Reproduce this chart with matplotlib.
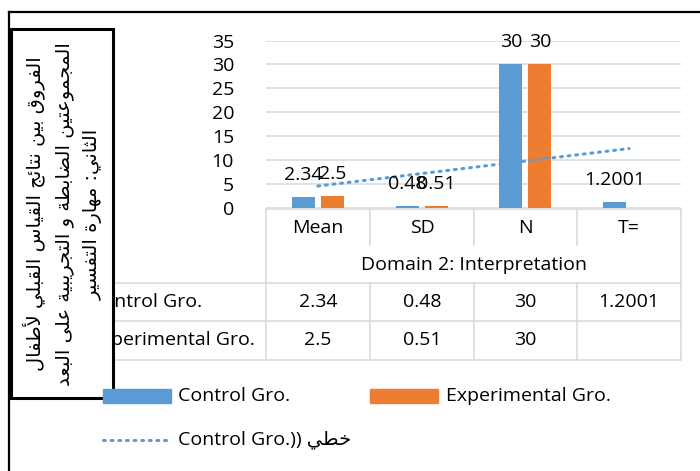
import matplotlib.pyplot as plt
from matplotlib.patches import Rectangle
from matplotlib.lines import Line2D
import numpy as np

plt.rcParams["font.family"] = ["Open Sans", "DejaVu Sans"]

# Data
categories = ["Mean", "SD", "N", "T="]
control = [2.34, 0.48, 30, 1.2001]
experimental = [2.5, 0.51, 30, None]
control_labels = ["2.34", "0.48", "30", "1.2001"]
experimental_labels = ["2.5", "0.51", "30", ""]
row_names = ["Control Gro.", "Experimental Gro."]
domain_title = "Domain 2: Interpretation"
box_lines = [
    "الفروق بين نتائج القياس القبلي لأطفال",
    "المجموعتين الضابطة و التجريبية على البعد",
    "الثاني: مهارة التفسير",
]
trend_word = "خطي"

BLUE = "#5B9BD5"
ORANGE = "#ED7D31"
GRID = "#D9D9D9"
FS = 14

# Arabic contextual forms: isolated, final, initial, medial
FORMS = {
    "ا": (0xFE8D, 0xFE8E, None, None),
    "أ": (0xFE83, 0xFE84, None, None),
    "ر": (0xFEAD, 0xFEAE, None, None),
    "و": (0xFEED, 0xFEEE, None, None),
    "د": (0xFEA9, 0xFEAA, None, None),
    "ة": (0xFE93, 0xFE94, None, None),
    "ى": (0xFEEF, 0xFEF0, None, None),
    "ل": (0xFEDD, 0xFEDE, 0xFEDF, 0xFEE0),
    "ف": (0xFED1, 0xFED2, 0xFED3, 0xFED4),
    "ق": (0xFED5, 0xFED6, 0xFED7, 0xFED8),
    "ب": (0xFE8F, 0xFE90, 0xFE91, 0xFE92),
    "ي": (0xFEF1, 0xFEF2, 0xFEF3, 0xFEF4),
    "ن": (0xFEE5, 0xFEE6, 0xFEE7, 0xFEE8),
    "ت": (0xFE95, 0xFE96, 0xFE97, 0xFE98),
    "ث": (0xFE99, 0xFE9A, 0xFE9B, 0xFE9C),
    "ئ": (0xFE89, 0xFE8A, 0xFE8B, 0xFE8C),
    "ج": (0xFE9D, 0xFE9E, 0xFE9F, 0xFEA0),
    "خ": (0xFEA5, 0xFEA6, 0xFEA7, 0xFEA8),
    "س": (0xFEB1, 0xFEB2, 0xFEB3, 0xFEB4),
    "ض": (0xFEBD, 0xFEBE, 0xFEBF, 0xFEC0),
    "ط": (0xFEC1, 0xFEC2, 0xFEC3, 0xFEC4),
    "ع": (0xFEC9, 0xFECA, 0xFECB, 0xFECC),
    "م": (0xFEE1, 0xFEE2, 0xFEE3, 0xFEE4),
    "ه": (0xFEE9, 0xFEEA, 0xFEEB, 0xFEEC),
}
LAM_ALEF = {"ا": (0xFEFB, 0xFEFC), "أ": (0xFEF7, 0xFEF8)}


def shape(text):
    tokens, i = [], 0
    while i < len(text):
        if text[i] == "ل" and i + 1 < len(text) and text[i + 1] in LAM_ALEF:
            tokens.append(("la", text[i + 1]))
            i += 2
        else:
            tokens.append(text[i])
            i += 1

    def is_ar(t):
        return isinstance(t, tuple) or t in FORMS

    def dual(t):
        return not isinstance(t, tuple) and t in FORMS and FORMS[t][2] is not None

    out = []
    for k, t in enumerate(tokens):
        prev = tokens[k - 1] if k > 0 else None
        nxt = tokens[k + 1] if k + 1 < len(tokens) else None
        jp = prev is not None and dual(prev)
        if isinstance(t, tuple):
            out.append(chr(LAM_ALEF[t[1]][1 if jp else 0]))
            continue
        if t not in FORMS:
            out.append(t)
            continue
        iso, fin, ini, med = FORMS[t]
        jn = ini is not None and nxt is not None and is_ar(nxt)
        if jp and jn:
            out.append(chr(med))
        elif jp:
            out.append(chr(fin))
        elif jn:
            out.append(chr(ini))
        else:
            out.append(chr(iso))
    return "".join(reversed(out))


W, H = 700, 471
fig = plt.figure(figsize=(W / 100, H / 100), dpi=100)


def fx(px):
    return px / W


def fy(py):
    return 1 - py / H


# plot area
x0, x1, y0, y1 = 266, 681, 208, 40.5
ax = fig.add_axes([fx(x0), fy(y0), fx(x1 - x0), (y0 - y1) / H])
x = np.arange(1, len(categories) + 1)
bw, off = 0.22, 0.14
ctrl = np.array(control, dtype=float)
expv = np.array([np.nan if v is None else v for v in experimental], dtype=float)
ax.bar(x - off, ctrl, bw, color=BLUE, zorder=3)
ax.bar(x + off, expv, bw, color=ORANGE, zorder=3)

for xi, v, lab in zip(x - off, ctrl, control_labels):
    ax.annotate(lab, (xi, v), xytext=(0, 13), textcoords="offset pixels",
                ha="center", va="bottom", fontsize=FS, zorder=5)
for xi, v, lab in zip(x + off, expv, experimental_labels):
    if lab:
        ax.annotate(lab, (xi, v), xytext=(0, 13), textcoords="offset pixels",
                    ha="center", va="bottom", fontsize=FS, zorder=5)

# linear trend of the control series
dots = (0, (0.6, 1.9))
coef = np.polyfit(x, ctrl, 1)
ax.plot(x, np.polyval(coef, x), color=BLUE, lw=2.2, linestyle=dots,
        dash_capstyle="round", zorder=4)

ax.set_xlim(0.5, len(categories) + 0.5)
ax.set_ylim(0, 35)
ax.set_yticks(range(0, 36, 5))
ax.set_xticks([])
ax.yaxis.grid(True, color=GRID, lw=1.1, zorder=0)
ax.tick_params(axis="y", length=0, pad=23, labelsize=FS)
for s in ax.spines.values():
    s.set_visible(False)
ax.patch.set_alpha(0)

# data table
col_edges = [266, 370, 474, 577, 681]
t_top, t_hdr, t_dom, t_r1, t_r2 = 209, 245, 283, 321, 360
lk = dict(color=GRID, lw=1.1, transform=fig.transFigure, zorder=1)
fig.add_artist(Line2D([fx(266), fx(681)], [fy(t_top)] * 2, **lk))
for yy in (t_dom, t_r1, t_r2):
    fig.add_artist(Line2D([fx(80), fx(681)], [fy(yy)] * 2, **lk))
for xx in (266, 681):
    fig.add_artist(Line2D([fx(xx)] * 2, [fy(t_top), fy(t_r2)], **lk))
for xx in col_edges[1:-1]:
    fig.add_artist(Line2D([fx(xx)] * 2, [fy(t_top), fy(t_hdr)], **lk))
    fig.add_artist(Line2D([fx(xx)] * 2, [fy(t_dom), fy(t_r2)], **lk))

centers = [(a + b) / 2 for a, b in zip(col_edges[:-1], col_edges[1:])]
for cx, c in zip(centers, categories):
    fig.text(fx(cx), fy(228), c, ha="center", va="center", fontsize=FS)
fig.text(fx(474), fy(265), domain_title, ha="center", va="center", fontsize=FS)
for row_y, name, labs in zip((302, 340), row_names,
                             (control_labels, experimental_labels)):
    fig.text(fx(90), fy(row_y), name, ha="left", va="center", fontsize=FS)
    for cx, lab in zip(centers, labs):
        fig.text(fx(cx), fy(row_y), lab, ha="center", va="center", fontsize=FS)

# chart border (top and left edges visible)
bk = dict(color="black", lw=1.6, transform=fig.transFigure, zorder=6)
fig.add_artist(Line2D([fx(9), fx(700)], [fy(12)] * 2, **bk))
fig.add_artist(Line2D([fx(9)] * 2, [fy(12), fy(471)], **bk))

# rotated Arabic text box
fig.add_artist(Rectangle((fx(11), fy(398)), fx(102), (398 - 29) / H,
                         transform=fig.transFigure, facecolor="white",
                         edgecolor="black", lw=2.2, zorder=7))
fig.text(fx(63), fy(214), "\n".join(shape(s) for s in box_lines),
         rotation=90, ha="center", va="center", multialignment="center",
         fontsize=14, family="DejaVu Sans", linespacing=1.6, zorder=8)

# legend
fig.add_artist(Rectangle((fx(103), fy(403)), fx(68), 14 / H,
                         transform=fig.transFigure, color=BLUE, zorder=9))
fig.text(fx(178), fy(396), row_names[0], va="center", fontsize=FS, zorder=9)
fig.add_artist(Rectangle((fx(370), fy(403)), fx(68), 14 / H,
                         transform=fig.transFigure, color=ORANGE, zorder=9))
fig.text(fx(446), fy(396), row_names[1], va="center", fontsize=FS, zorder=9)
fig.add_artist(Line2D([fx(103), fx(169)], [fy(440)] * 2, color=BLUE, lw=2.2,
                      linestyle=dots, dash_capstyle="round",
                      transform=fig.transFigure, zorder=9))
fig.text(fx(178), fy(440), row_names[0] + ")) " + shape(trend_word),
         va="center", fontsize=FS, zorder=9)

fig.savefig("out.png", dpi=100, facecolor="white")
